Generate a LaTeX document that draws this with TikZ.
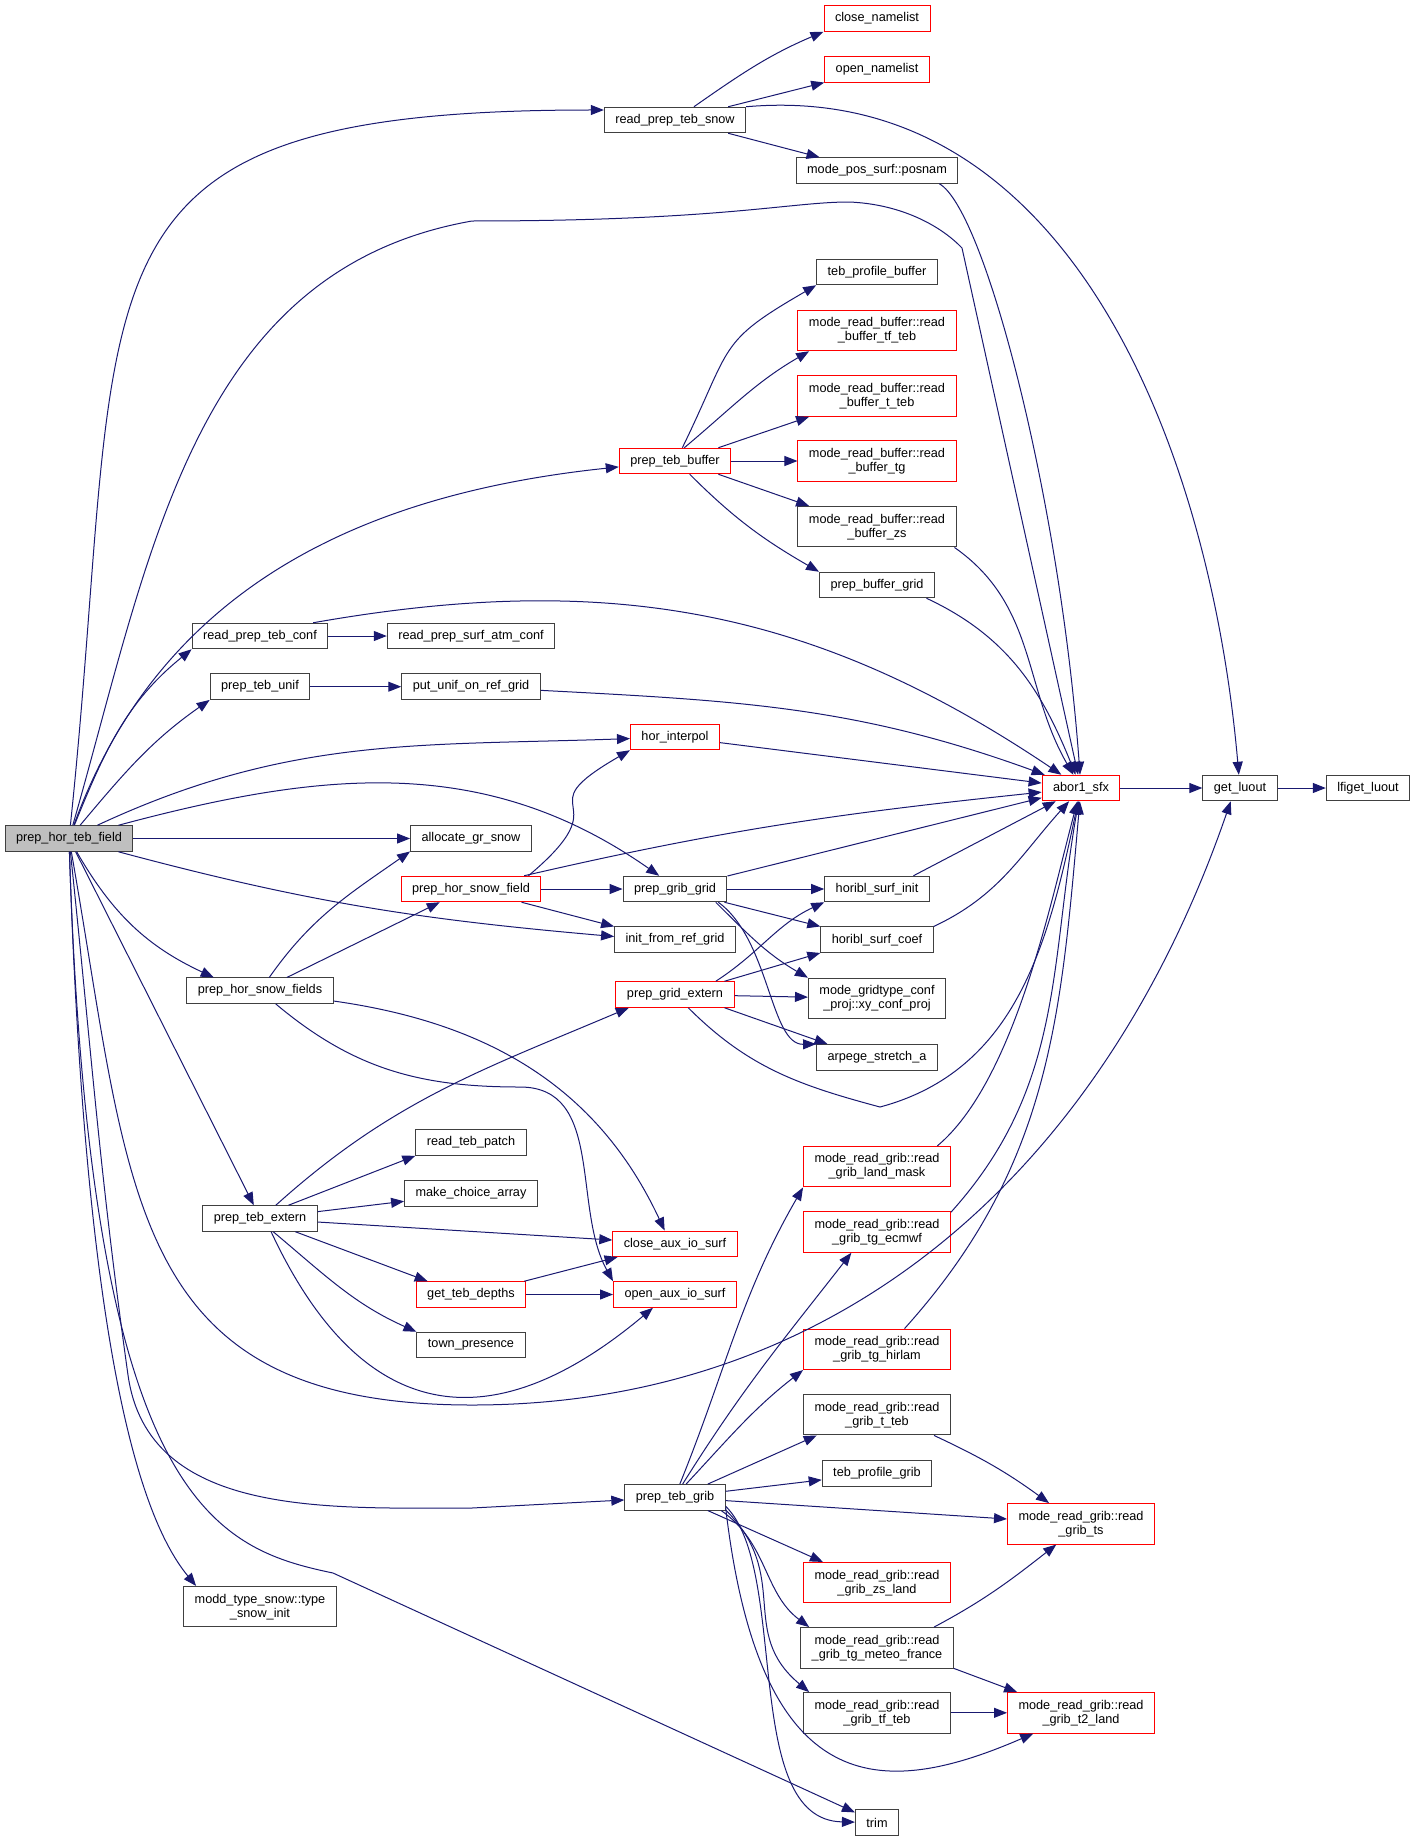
\documentclass[tikz,border=0pt]{standalone}
\usepackage{fontspec}
\setmainfont{Liberation Sans}
\usetikzlibrary{arrows.meta}
\definecolor{edgeblue}{HTML}{191970}
\definecolor{nodegray}{HTML}{404040}
\definecolor{nodered}{HTML}{FF0000}
\definecolor{mainfill}{HTML}{BFBFBF}
\newcommand{\fnfont}{\fontsize{12.7}{14}\selectfont}
\tikzstyle{fn} = [rectangle, draw=nodegray, line width=1pt, fill=white, font=\fnfont, align=center, inner xsep=11pt, inner ysep=3pt, minimum height=25.5pt]
\tikzstyle{fnred} = [fn, draw=nodered]
\tikzstyle{fnmain} = [fn, fill=mainfill]
\tikzstyle{twoline} = [minimum height=40.5pt]
\tikzstyle{line} = [draw=edgeblue, line width=1pt, -{Triangle[length=13pt, width=10pt]}]

\begin{document}
\begin{tikzpicture}[x=1pt, y=1pt, auto]
\useasboundingbox (0,0) rectangle (1416,-1841);

\node [fnmain] (main) at (69,-838.5) {prep\_hor\_teb\_field};
\node [fn] (rptsnow) at (675,-120) {read\_prep\_teb\_snow};
\node [fnred] (closenam) at (877,-18.5) {close\_namelist};
\node [fnred] (opennam) at (877,-69.3) {open\_namelist};
\node [fn] (posnam) at (877,-170.5) {mode\_pos\_surf::posnam};
\node [fn] (tebprofbuf) at (877,-272) {teb\_profile\_buffer};
\node [fnred, twoline] (rbtfteb) at (877,-330.5) {mode\_read\_buffer::read\\\_buffer\_tf\_teb};
\node [fnred, twoline] (rbtteb) at (877,-396) {mode\_read\_buffer::read\\\_buffer\_t\_teb};
\node [fnred, twoline] (rbtg) at (877,-461) {mode\_read\_buffer::read\\\_buffer\_tg};
\node [fn, twoline] (rbzs) at (877,-526.7) {mode\_read\_buffer::read\\\_buffer\_zs};
\node [fn] (prepbufgrid) at (877,-585) {prep\_buffer\_grid};
\node [fnred] (preptebbuf) at (675,-461) {prep\_teb\_buffer};
\node [fn] (rptconf) at (260,-636) {read\_prep\_teb\_conf};
\node [fn] (rpsaconf) at (471,-636) {read\_prep\_surf\_atm\_conf};
\node [fn] (preptebunif) at (260,-686.7) {prep\_teb\_unif};
\node [fn] (putunif) at (471,-686.7) {put\_unif\_on\_ref\_grid};
\node [fnred] (horinterp) at (675,-737) {hor\_interpol};
\node [fnred] (abor) at (1081,-788) {abor1\_sfx};
\node [fn] (getluout) at (1240,-788) {get\_luout};
\node [fn] (lfiget) at (1368,-788) {lfiget\_luout};
\node [fn] (allocgr) at (471,-838.5) {allocate\_gr\_snow};
\node [fnred] (prephsfield) at (471,-889) {prep\_hor\_snow\_field};
\node [fn] (prepgribgrid) at (675,-889) {prep\_grib\_grid};
\node [fn] (horiblinit) at (877,-889) {horibl\_surf\_init};
\node [fn] (initref) at (675,-939.7) {init\_from\_ref\_grid};
\node [fn] (horiblcoef) at (877,-939.7) {horibl\_surf\_coef};
\node [fn] (prephsfields) at (260,-990.7) {prep\_hor\_snow\_fields};
\node [fnred] (prepgridext) at (675,-994.5) {prep\_grid\_extern};
\node [fn, twoline] (xyconf) at (877,-998.5) {mode\_gridtype\_conf\\\_proj::xy\_conf\_proj};
\node [fn] (arpege) at (877,-1057.3) {arpege\_stretch\_a};
\node [fn] (readtebpatch) at (471,-1142.5) {read\_teb\_patch};
\node [fnred, twoline] (landmask) at (877,-1166.7) {mode\_read\_grib::read\\\_grib\_land\_mask};
\node [fn] (makechoice) at (471,-1193.3) {make\_choice\_array};
\node [fn] (preptebext) at (260,-1218.5) {prep\_teb\_extern};
\node [fnred, twoline] (tgecmwf) at (877,-1232) {mode\_read\_grib::read\\\_grib\_tg\_ecmwf};
\node [fnred] (closeaux) at (675,-1243.8) {close\_aux\_io\_surf};
\node [fnred] (getdepths) at (471,-1294.5) {get\_teb\_depths};
\node [fnred] (openaux) at (675,-1294.5) {open\_aux\_io\_surf};
\node [fn] (townpres) at (471,-1345) {town\_presence};
\node [fnred, twoline] (tghirlam) at (877,-1349.3) {mode\_read\_grib::read\\\_grib\_tg\_hirlam};
\node [fn, twoline] (gribtteb) at (877,-1414.7) {mode\_read\_grib::read\\\_grib\_t\_teb};
\node [fn] (tebprofgrib) at (877,-1473.3) {teb\_profile\_grib};
\node [fn] (preptebgrib) at (675,-1497.3) {prep\_teb\_grib};
\node [fnred, twoline] (gribts) at (1081,-1523.8) {mode\_read\_grib::read\\\_grib\_ts};
\node [fnred, twoline] (gribzs) at (877,-1582.7) {mode\_read\_grib::read\\\_grib\_zs\_land};
\node [fn, twoline] (snowinit) at (260,-1606.7) {modd\_type\_snow::type\\\_snow\_init};
\node [fn, twoline] (gribmeteo) at (877,-1647.8) {mode\_read\_grib::read\\\_grib\_tg\_meteo\_france};
\node [fn, twoline] (gribtfteb) at (877,-1712.8) {mode\_read\_grib::read\\\_grib\_tf\_teb};
\node [fnred, twoline] (gribt2) at (1081,-1712.8) {mode\_read\_grib::read\\\_grib\_t2\_land};
\node [fn] (trim) at (877,-1822.5) {trim};

\path [line] (main) to[out=84, in=180, looseness=1.6] (rptsnow.172);
\path [line] (main) to[out=74, in=190] (472,-221) .. controls (720,-221) and (790,-202) .. (849,-202) .. controls (900,-204) and (940,-225) .. (962,-248) -- (abor);
\path [line] (main) to[out=70, in=186] (preptebbuf);
\path [line] (main) to[out=68, in=219] (rptconf.south west);
\path [line] (main) to[out=50, in=215] (preptebunif.south west);
\path [line] (main) to[out=25, in=182] (horinterp);
\path [line] (main) to[out=15, in=145] (prepgribgrid.140);
\path [line] (main) -- (allocgr);
\path [line] (main) to[out=-15, in=175] (initref.177);
\path [line] (main) to[out=-60, in=155] (prephsfields.164);
\path [line] (main) -- (preptebext.115);
\path [line] (main) to[out=-80, in=180, looseness=1.3] (472,-1405) to[out=0, in=251] (getluout.235);
\path [line] (main) to[out=-84, in=98] (128,-1375) to[out=-82, in=180] (472,-1508) -- (preptebgrib);
\path [line] (main) .. controls (84,-1301) and (130,-1506) .. (snowinit.162);
\path [line] (main) .. controls (90,-1500) and (213,-1548) .. (333,-1573) -- (trim);

\path [line] (rptsnow.35) to[out=35, in=203] (closenam.south west);
\path [line] (rptsnow.14) -- (opennam.south west);
\path [line] (rptsnow.-14) -- (posnam.167);
\path [line] (rptsnow.north east) to[out=5, in=95] (getluout);
\path [line] (posnam.-12) .. controls (985,-210) and (1060,-500) .. (abor);

\path [line] (preptebbuf.61) to[out=64, in=210, looseness=1.4] (tebprofbuf.south west);
\path [line] (preptebbuf.55) to[out=40, in=210] (rbtfteb.197);
\path [line] (preptebbuf.17) -- (rbtteb.197);
\path [line] (preptebbuf) -- (rbtg);
\path [line] (preptebbuf.-17) -- (rbzs.163);
\path [line] (preptebbuf.-42) to[out=-45, in=150] (prepbufgrid.north west);
\path [line] (rbzs.-15) to[out=-35, in=120] (abor);
\path [line] (prepbufgrid.-15) to[out=-25, in=112] (abor);

\path [line] (rptconf) -- (rpsaconf);
\path [line] (rptconf.14) to[out=10, in=146] (abor);
\path [line] (preptebunif) -- (putunif);
\path [line] (putunif) to[out=-3, in=160] (abor);
\path [line] (horinterp) -- (abor);
\path [line] (abor) -- (getluout);
\path [line] (getluout) -- (lfiget);

\path [line] (prephsfields) to[out=55, in=215] (allocgr.192);
\path [line] (prephsfields) -- (prephsfield.203);
\path [line] (prephsfields) to[out=-8, in=115] (closeaux.128);
\path [line] (prephsfields.-40) to[out=-40, in=180] (520,-1087) to[out=0, in=119] (openaux.north west);

\path [line] (prephsfield.13) to[out=40, in=210, looseness=2] (horinterp.south west);
\path [line] (prephsfield.14) to[out=13, in=186] (abor);
\path [line] (prephsfield) -- (prepgribgrid);
\path [line] (prephsfield) -- (initref.north west);

\path [line] (prepgribgrid) -- (abor);
\path [line] (prepgribgrid) -- (horiblinit);
\path [line] (prepgribgrid.-15) -- (horiblcoef.north west);
\path [line] (prepgribgrid.-18) to[out=-45, in=150] (xyconf.north west);
\path [line] (prepgribgrid.-17) .. controls (770,-940) and (770,-1045) .. (arpege.north west);

\path [line] (prepgridext.18) to[out=33, in=205] (horiblinit.south west);
\path [line] (prepgridext.15) -- (horiblcoef.south west);
\path [line] (prepgridext) -- (xyconf);
\path [line] (prepgridext.-15) -- (arpege.165);
\path [line] (prepgridext.-45) to[out=-45, in=165] (880,-1107) to[out=15, in=258] (abor);

\path [line] (horiblinit.20) -- (abor);
\path [line] (horiblcoef.north east) to[out=25, in=228] (abor);
\path [line] (landmask.19) to[out=40, in=255, looseness=0.7] (abor);
\path [line] (tgecmwf.15) to[out=48, in=260] (abor);
\path [line] (tghirlam.37) to[out=48, in=265] (abor);

\path [line] (preptebext.40) to[out=42, in=203] (prepgridext.196);
\path [line] (preptebext.25) -- (readtebpatch.south west);
\path [line] (preptebext) -- (makechoice);
\path [line] (preptebext) -- (closeaux);
\path [line] (preptebext) -- (getdepths.163);
\path [line] (preptebext.-45) to[out=-40, in=156] (townpres.north west);
\path [line] (preptebext.-50) to[out=-65, in=220, looseness=1.4] (openaux.211);
\path [line] (getdepths.14) -- (closeaux.193);
\path [line] (getdepths) -- (openaux);

\path [line] (preptebgrib.70) to[out=68, in=240] (landmask.south west);
\path [line] (preptebgrib.60) to[out=58, in=232] (tgecmwf.219);
\path [line] (preptebgrib.50) to[out=47, in=218] (tghirlam.south west);
\path [line] (preptebgrib.22) -- (gribtteb.199);
\path [line] (preptebgrib) -- (tebprofgrib);
\path [line] (preptebgrib) -- (gribts);
\path [line] (preptebgrib.-22) -- (gribzs.159);
\path [line] (preptebgrib.-16) to[out=-35, in=143] (gribmeteo.163);
\path [line] (preptebgrib.-14) to[out=-45, in=140, looseness=1.2] (gribtfteb.163);
\path [line] (preptebgrib.-12) .. controls (760,-1800) and (880,-1800) .. (gribt2);
\path [line] (preptebgrib.-10) .. controls (790,-1570) and (740,-1820) .. (trim);

\path [line] (gribtteb.-20) to[out=-25, in=144] (gribts.147);
\path [line] (gribmeteo.20) to[out=28, in=218] (gribts.220);
\path [line] (gribmeteo.-15) -- (gribt2.162);
\path [line] (gribtfteb) -- (gribt2);
\end{tikzpicture}
\end{document}
